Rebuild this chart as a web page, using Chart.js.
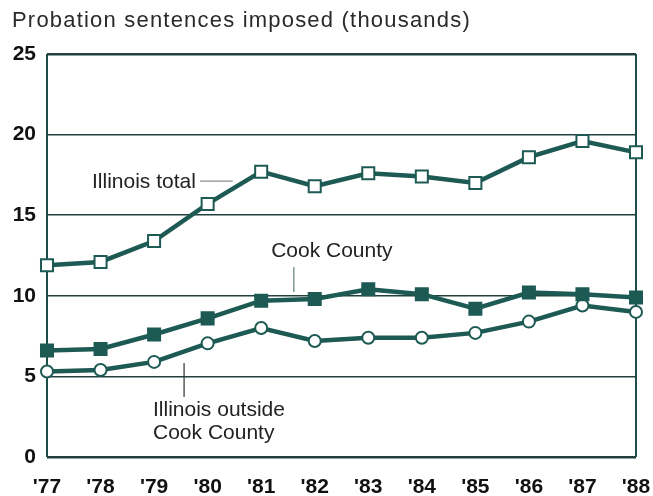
<!DOCTYPE html>
<html>
<head>
<meta charset="utf-8">
<script src="https://cdn.jsdelivr.net/npm/chart.js@4/dist/chart.umd.min.js"></script>
<style>
  html, body { margin: 0; padding: 0; background: #fff; }
  #wrap { width: 653px; height: 496px; }
</style>
</head>
<body>
<div id="wrap"><canvas id="probChart" width="653" height="496"></canvas></div>
<script>
// years on the x axis
const years = ["'77", "'78", "'79", "'80", "'81", "'82", "'83", "'84", "'85", "'86", "'87", "'88"];

// probation sentences (thousands)
const illinoisTotal = [11.9, 12.1, 13.4, 15.7, 17.7, 16.8, 17.6, 17.4, 17.0, 18.6, 19.6, 18.9];
const cookCounty = [6.6, 6.7, 7.6, 8.6, 9.7, 9.8, 10.4, 10.1, 9.2, 10.2, 10.1, 9.9];
const outsideCook = [5.3, 5.4, 5.9, 7.05, 8.0, 7.2, 7.4, 7.4, 7.7, 8.4, 9.4, 9.0];

const yTicks = [0, 5, 10, 15, 20, 25];

const titleText = 'Probation sentences imposed (thousands)';

const teal = '#1d5a54';
const labelFont = '"Liberation Sans", Arial, sans-serif';

// labels with little leader lines, placed in data units
const notes = [
  { lines: ['Illinois total'], x: 0.84, y: 17.06, align: 'left', leader: [[2.86, 17.12], [3.47, 17.12]], leaderColor: '#8a8a8a' },
  { lines: ['Cook County'], x: 5.32, y: 12.78, align: 'center', leader: [[4.61, 11.79], [4.61, 10.24]], leaderColor: '#5f7f7b' },
  { lines: ['Illinois outside', 'Cook County'], x: 1.98, y: 2.92, align: 'left', leader: [[2.56, 5.83], [2.56, 3.72]], leaderColor: '#333' }
];

const notesPlugin = {
  id: 'notes',
  afterDatasetsDraw(chart) {
    const { ctx, scales: { x, y } } = chart;
    ctx.save();
    notes.forEach(n => {
      ctx.strokeStyle = n.leaderColor;
      ctx.lineWidth = 1.2;
      ctx.beginPath();
      ctx.moveTo(x.getPixelForValue(n.leader[0][0]), y.getPixelForValue(n.leader[0][1]));
      ctx.lineTo(x.getPixelForValue(n.leader[1][0]), y.getPixelForValue(n.leader[1][1]));
      ctx.stroke();

      ctx.fillStyle = '#222';
      ctx.font = '21px ' + labelFont;
      ctx.textAlign = n.align;
      ctx.textBaseline = 'middle';
      n.lines.forEach((t, i) => {
        ctx.fillText(t, x.getPixelForValue(n.x), y.getPixelForValue(n.y) + i * 23);
      });
    });

    // title, a bit spaced out like the print
    ctx.fillStyle = '#2a2a2a';
    ctx.font = '22px ' + labelFont;
    ctx.textAlign = 'left';
    ctx.textBaseline = 'middle';
    ctx.letterSpacing = '1.2px';
    ctx.fillText(titleText, 12, 21);
    ctx.restore();
  }
};

const lineStyle = {
  borderColor: teal,
  borderWidth: 4.5,
  pointBorderColor: teal,
  pointBorderWidth: 2,
  tension: 0,
  clip: false
};

new Chart(document.getElementById('probChart'), {
  type: 'line',
  data: {
    labels: years,
    datasets: [
      Object.assign({ label: 'Illinois total', data: illinoisTotal, pointStyle: 'rect', pointRadius: 8.5, pointBackgroundColor: '#fff' }, lineStyle),
      Object.assign({ label: 'Cook County', data: cookCounty, pointStyle: 'rect', pointRadius: 8.5, pointBackgroundColor: teal }, lineStyle),
      Object.assign({ label: 'Illinois outside Cook County', data: outsideCook, pointStyle: 'circle', pointRadius: 6, pointBackgroundColor: '#fff' }, lineStyle)
    ]
  },
  options: {
    responsive: false,
    animation: false,
    layout: { autoPadding: false, padding: { left: 0, right: 17, top: 54, bottom: 0 } },
    plugins: {
      legend: { display: false },
      tooltip: { enabled: false },
      title: { display: false }
    },
    scales: {
      x: {
        offset: false,
        afterFit: axis => { axis.height = 39; axis.paddingLeft = 0; axis.paddingRight = 0; },
        grid: {
          drawTicks: false,
          color: ctx => (ctx.index === 0 || ctx.index === years.length - 1) ? '#1d4d49' : 'rgba(0,0,0,0)',
          lineWidth: 2
        },
        border: { display: false },
        ticks: {
          color: '#111',
          padding: 18,
          maxRotation: 0,
          autoSkip: false,
          font: { family: labelFont, size: 21, weight: 'bold' }
        }
      },
      y: {
        min: 0,
        max: 25,
        afterBuildTicks: axis => { axis.ticks = yTicks.map(v => ({ value: v })); },
        afterFit: axis => { axis.width = 47; },
        grid: {
          drawTicks: false,
          color: '#22403d',
          lineWidth: ctx => (ctx.tick.value === 0 || ctx.tick.value === 25) ? 2.5 : 1.5
        },
        border: { display: false },
        ticks: {
          color: '#111',
          padding: 11,
          font: { family: labelFont, size: 21, weight: 'bold' }
        }
      }
    }
  },
  plugins: [notesPlugin]
});
</script>
</body>
</html>
